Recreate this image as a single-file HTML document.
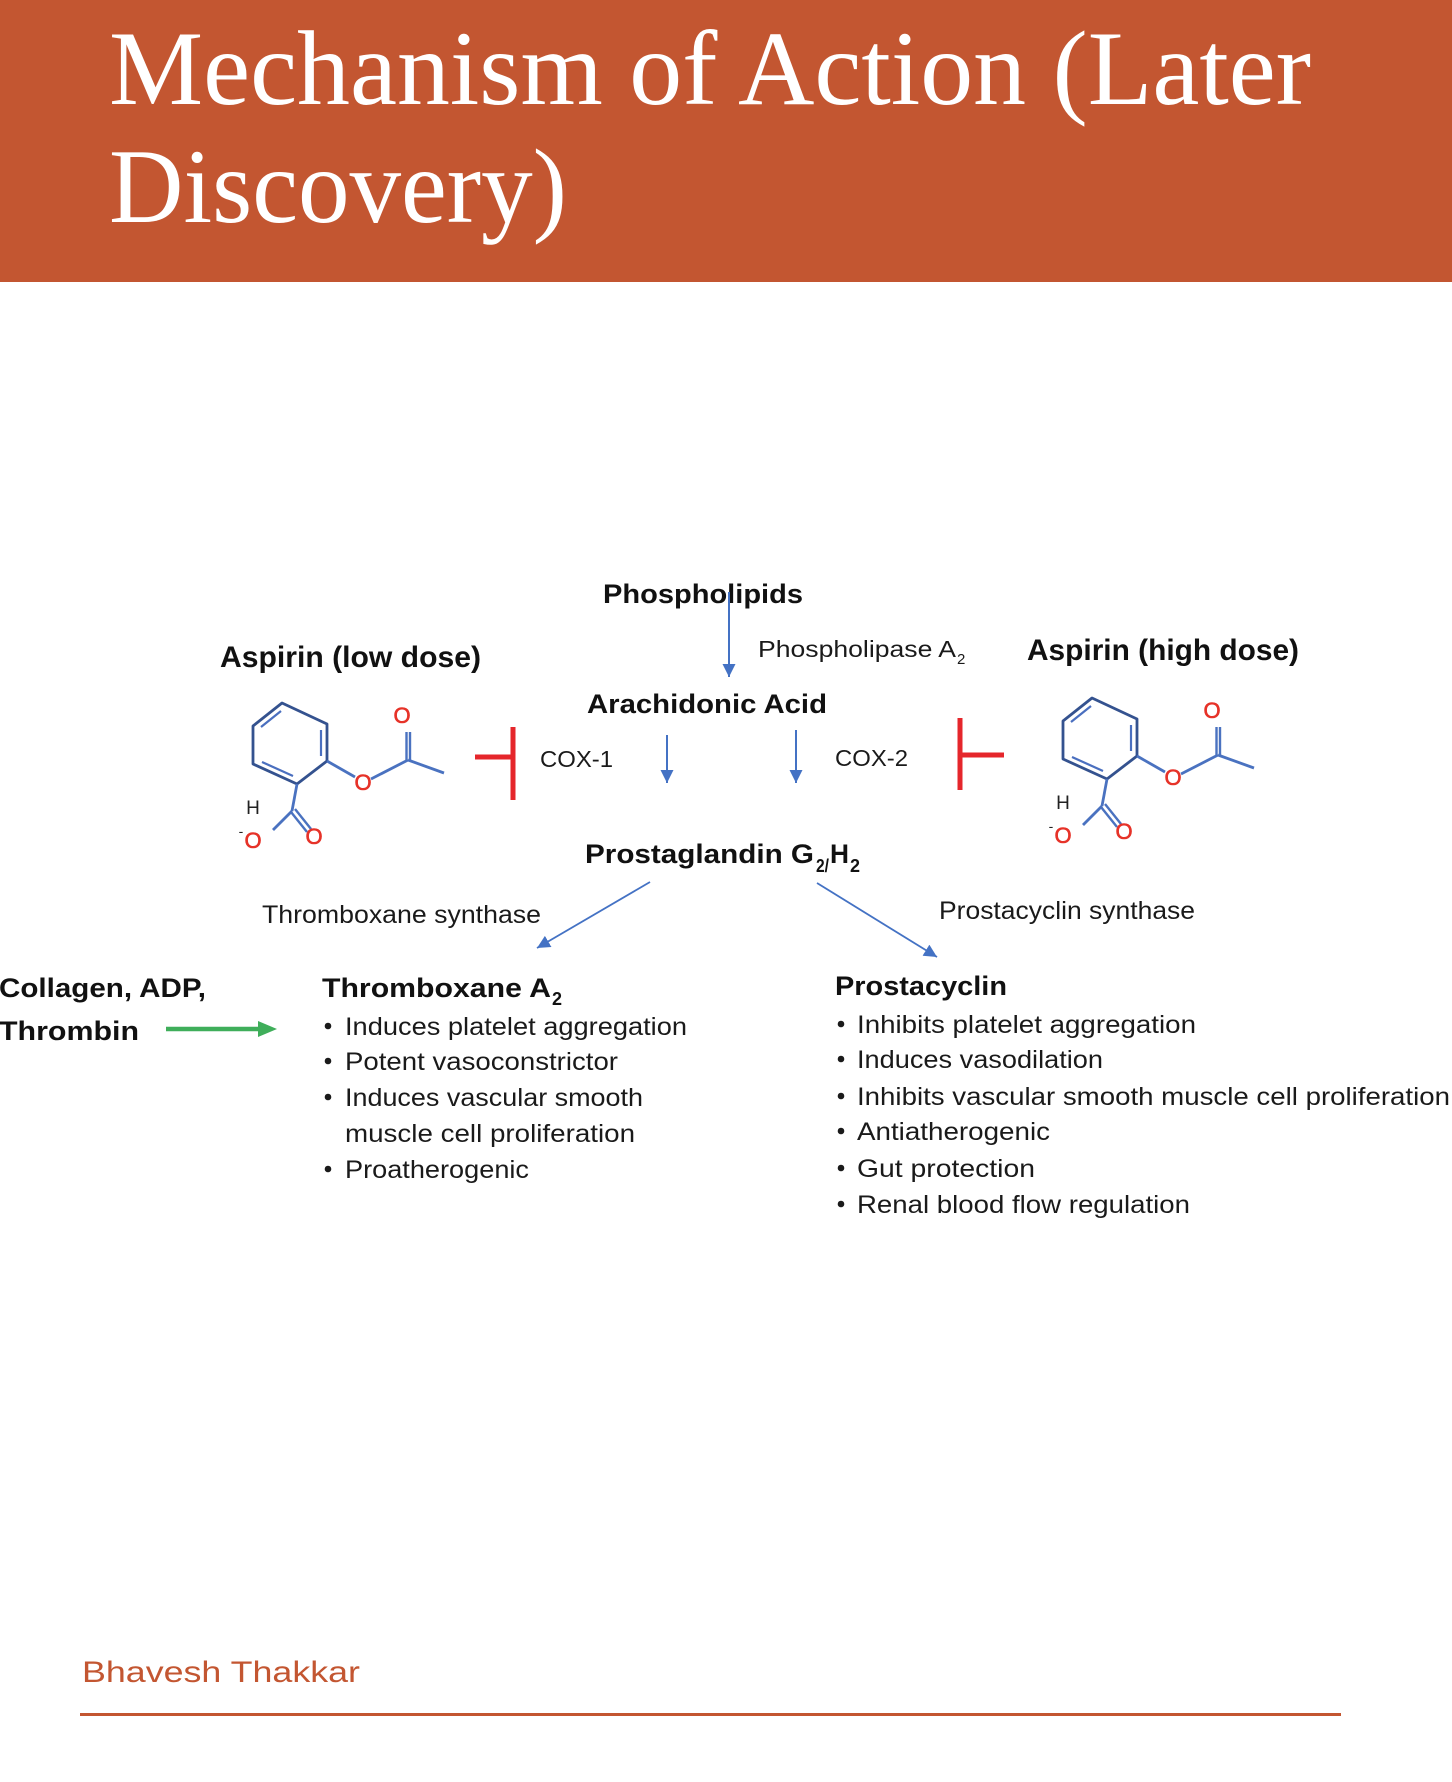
<!DOCTYPE html>
<html>
<head>
<meta charset="utf-8">
<style>
  html,body{margin:0;padding:0;background:#fff;}
  body{width:1452px;height:1782px;position:relative;overflow:hidden;}
  svg{position:absolute;left:0;top:0;}
  .b{font-family:"Liberation Sans",Arial,sans-serif;font-weight:bold;fill:#111;}
  .n{font-family:"Liberation Sans",Arial,sans-serif;fill:#1a1a1a;}
  .t{font-family:"Liberation Serif","Times New Roman",serif;fill:#fff;}
  .red{font-family:"Liberation Sans",Arial,sans-serif;fill:#e63228;stroke:#e63228;stroke-width:0.6;}
  .blk{font-family:"Liberation Sans",Arial,sans-serif;fill:#222;}
</style>
</head>
<body>
<svg width="1452" height="1782" viewBox="0 0 1452 1782" xmlns="http://www.w3.org/2000/svg">
  <defs>
    <marker id="ab" viewBox="0 0 10 10" refX="10" refY="5" markerWidth="13" markerHeight="13" markerUnits="userSpaceOnUse" orient="auto">
      <path d="M0,0 L10,5 L0,10 z" fill="#4472c4"/>
    </marker>
    <g id="mol">
      <!-- ring -->
      <polygon points="1092,698 1137,719 1137,756 1107,779 1063,759 1063,721" fill="none" stroke="#34528f" stroke-width="2.8" stroke-linejoin="round"/>
      <line x1="1071" y1="722" x2="1091" y2="706" stroke="#4a6fbf" stroke-width="2.2"/>
      <line x1="1131" y1="725" x2="1131" y2="751" stroke="#4a6fbf" stroke-width="2.2"/>
      <line x1="1072" y1="757" x2="1103" y2="771" stroke="#4a6fbf" stroke-width="2.2"/>
      <!-- ester -->
      <line x1="1137" y1="756" x2="1165" y2="772" stroke="#4a72c0" stroke-width="2.8"/>
      <line x1="1181" y1="774" x2="1218" y2="755" stroke="#4a72c0" stroke-width="2.8"/>
      <line x1="1216.5" y1="755" x2="1216.5" y2="727" stroke="#4a72c0" stroke-width="2.4"/>
      <line x1="1220" y1="755" x2="1220" y2="727" stroke="#4a72c0" stroke-width="2.4"/>
      <line x1="1218" y1="755" x2="1254" y2="768" stroke="#4a72c0" stroke-width="2.8"/>
      <!-- carboxyl -->
      <line x1="1107" y1="779" x2="1102" y2="806" stroke="#4a72c0" stroke-width="2.8"/>
      <line x1="1102" y1="806" x2="1083" y2="825" stroke="#4a72c0" stroke-width="2.8"/>
      <line x1="1101" y1="807" x2="1117" y2="827" stroke="#4a72c0" stroke-width="2.4"/>
      <line x1="1105" y1="804" x2="1121" y2="824" stroke="#4a72c0" stroke-width="2.4"/>
      <!-- atoms -->
      <text class="red" x="1212" y="718" font-size="22" text-anchor="middle">O</text>
      <text class="red" x="1173" y="785" font-size="22" text-anchor="middle">O</text>
      <text class="red" x="1124" y="839" font-size="22" text-anchor="middle">O</text>
      <text class="red" x="1063" y="843" font-size="22" text-anchor="middle">O</text>
      <text class="blk" x="1051" y="831" font-size="14" text-anchor="middle">-</text>
      <text class="blk" x="1063" y="809" font-size="19" text-anchor="middle">H</text>
    </g>
  </defs>

  <!-- Title bar -->
  <rect x="0" y="0" width="1452" height="282" fill="#c35631"/>
  <text class="t" x="109" y="104" font-size="106" textLength="1202" lengthAdjust="spacingAndGlyphs">Mechanism of Action (Later</text>
  <text class="t" x="109" y="222" font-size="106" textLength="458" lengthAdjust="spacingAndGlyphs">Discovery)</text>

  <!-- Molecules -->
  <use href="#mol"/>
  <use href="#mol" transform="translate(-810,5)"/>

  <!-- Top labels -->
  <text class="b" x="603" y="603" font-size="27" textLength="200" lengthAdjust="spacingAndGlyphs">Phospholipids</text>
  <line x1="729" y1="592" x2="729" y2="677" stroke="#4472c4" stroke-width="2" marker-end="url(#ab)"/>
  <text class="n" x="758" y="657" font-size="23" textLength="198" lengthAdjust="spacingAndGlyphs">Phospholipase A</text>
  <text class="n" x="957" y="664" font-size="15">2</text>

  <text class="b" x="220" y="667" font-size="30" textLength="261" lengthAdjust="spacingAndGlyphs">Aspirin (low dose)</text>
  <text class="b" x="1027" y="660" font-size="30" textLength="272" lengthAdjust="spacingAndGlyphs">Aspirin (high dose)</text>

  <text class="b" x="587" y="713" font-size="27" textLength="240" lengthAdjust="spacingAndGlyphs">Arachidonic Acid</text>

  <!-- COX -->
  <text class="n" x="540" y="767" font-size="23" textLength="73" lengthAdjust="spacingAndGlyphs">COX-1</text>
  <line x1="667" y1="735" x2="667" y2="783" stroke="#4472c4" stroke-width="2" marker-end="url(#ab)"/>
  <line x1="796" y1="730" x2="796" y2="783" stroke="#4472c4" stroke-width="2" marker-end="url(#ab)"/>
  <text class="n" x="835" y="766" font-size="23" textLength="73" lengthAdjust="spacingAndGlyphs">COX-2</text>

  <!-- Red inhibition T bars -->
  <line x1="475" y1="757" x2="513" y2="757" stroke="#e5262b" stroke-width="5"/>
  <line x1="513" y1="727" x2="513" y2="800" stroke="#e5262b" stroke-width="5"/>
  <line x1="960" y1="718" x2="960" y2="790" stroke="#e5262b" stroke-width="5"/>
  <line x1="960" y1="755" x2="1004" y2="755" stroke="#e5262b" stroke-width="5"/>

  <!-- Prostaglandin -->
  <text class="b" x="585" y="863" font-size="27" textLength="229" lengthAdjust="spacingAndGlyphs">Prostaglandin G</text>
  <text class="b" x="816" y="872" font-size="18" textLength="13" lengthAdjust="spacingAndGlyphs">2/</text>
  <text class="b" x="830" y="863" font-size="27" textLength="19" lengthAdjust="spacingAndGlyphs">H</text>
  <text class="b" x="850" y="872" font-size="18">2</text>

  <!-- Synthase arrows -->
  <line x1="650" y1="882" x2="537" y2="948" stroke="#4472c4" stroke-width="1.8" marker-end="url(#ab)"/>
  <line x1="817" y1="883" x2="937" y2="957" stroke="#4472c4" stroke-width="1.8" marker-end="url(#ab)"/>
  <text class="n" x="262" y="923" font-size="25" textLength="279" lengthAdjust="spacingAndGlyphs">Thromboxane synthase</text>
  <text class="n" x="939" y="919" font-size="25" textLength="256" lengthAdjust="spacingAndGlyphs">Prostacyclin synthase</text>

  <!-- Collagen -->
  <text class="b" x="-1" y="997" font-size="27" textLength="207" lengthAdjust="spacingAndGlyphs">Collagen, ADP,</text>
  <text class="b" x="-1" y="1040" font-size="27" textLength="140" lengthAdjust="spacingAndGlyphs">Thrombin</text>
  <line x1="166" y1="1029" x2="262" y2="1029" stroke="#3fae5a" stroke-width="4.5"/>
  <path d="M258,1021 L277,1029 L258,1037 z" fill="#3fae5a"/>

  <!-- Thromboxane A2 -->
  <text class="b" x="322" y="997" font-size="27" textLength="229" lengthAdjust="spacingAndGlyphs">Thromboxane A</text>
  <text class="b" x="552" y="1005" font-size="18">2</text>
  <g fill="#1a1a1a">
    <circle cx="328" cy="1026" r="3.3"/>
    <circle cx="328" cy="1061" r="3.3"/>
    <circle cx="328" cy="1097" r="3.3"/>
    <circle cx="328" cy="1169" r="3.3"/>
  </g>
  <text class="n" x="345" y="1035" font-size="25" textLength="342" lengthAdjust="spacingAndGlyphs">Induces platelet aggregation</text>
  <text class="n" x="345" y="1070" font-size="25" textLength="273" lengthAdjust="spacingAndGlyphs">Potent vasoconstrictor</text>
  <text class="n" x="345" y="1106" font-size="25" textLength="298" lengthAdjust="spacingAndGlyphs">Induces vascular smooth</text>
  <text class="n" x="345" y="1142" font-size="25" textLength="290" lengthAdjust="spacingAndGlyphs">muscle cell proliferation</text>
  <text class="n" x="345" y="1178" font-size="25" textLength="184" lengthAdjust="spacingAndGlyphs">Proatherogenic</text>

  <!-- Prostacyclin -->
  <text class="b" x="835" y="995" font-size="27" textLength="172" lengthAdjust="spacingAndGlyphs">Prostacyclin</text>
  <g fill="#1a1a1a">
    <circle cx="841" cy="1024" r="3.3"/>
    <circle cx="841" cy="1059" r="3.3"/>
    <circle cx="841" cy="1096" r="3.3"/>
    <circle cx="841" cy="1131" r="3.3"/>
    <circle cx="841" cy="1168" r="3.3"/>
    <circle cx="841" cy="1204" r="3.3"/>
  </g>
  <text class="n" x="857" y="1033" font-size="25" textLength="339" lengthAdjust="spacingAndGlyphs">Inhibits platelet aggregation</text>
  <text class="n" x="857" y="1068" font-size="25" textLength="246" lengthAdjust="spacingAndGlyphs">Induces vasodilation</text>
  <text class="n" x="857" y="1105" font-size="25" textLength="593" lengthAdjust="spacingAndGlyphs">Inhibits vascular smooth muscle cell proliferation</text>
  <text class="n" x="857" y="1140" font-size="25" textLength="193" lengthAdjust="spacingAndGlyphs">Antiatherogenic</text>
  <text class="n" x="857" y="1177" font-size="25" textLength="178" lengthAdjust="spacingAndGlyphs">Gut protection</text>
  <text class="n" x="857" y="1213" font-size="25" textLength="333" lengthAdjust="spacingAndGlyphs">Renal blood flow regulation</text>

  <!-- Footer -->
  <text x="82" y="1682" font-size="30" fill="#c35631" font-family="Liberation Sans, Arial, sans-serif" textLength="278" lengthAdjust="spacingAndGlyphs">Bhavesh Thakkar</text>
  <rect x="80" y="1713" width="1261" height="3" fill="#c35631"/>
</svg>
</body>
</html>
